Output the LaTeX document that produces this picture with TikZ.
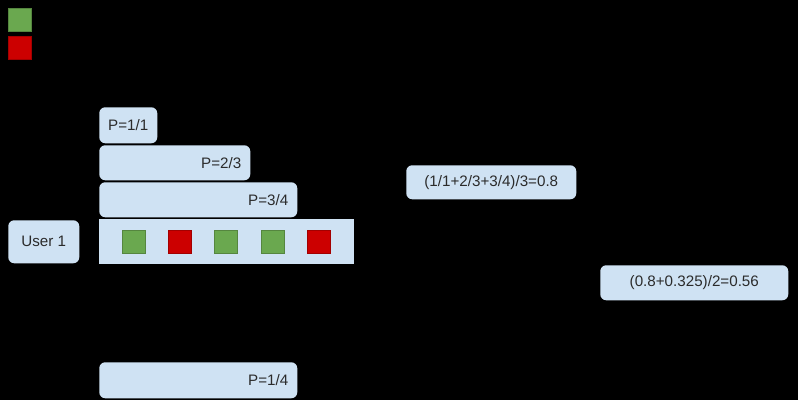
\documentclass[tikz,border=0pt]{standalone}
\usepackage{fontspec}
\setmainfont{Liberation Sans}
\usepackage{xcolor}
\usepackage{tikz}
\usetikzlibrary{positioning}
\definecolor{boxblue}{HTML}{CFE2F3}
\definecolor{hitgreen}{HTML}{6AA84F}
\definecolor{missred}{HTML}{CC0000}
\definecolor{txtgray}{HTML}{2B2B2B}

\begin{document}
\begin{tikzpicture}[
		font=\fontsize{10.8}{13}\selectfont,
		box/.style={
			rectangle,
			rounded corners=0.15cm,
			fill=boxblue,
			text=txtgray,
			anchor=north west,
			inner xsep=0.225cm,
			inner ysep=0pt},
		pbar/.style={
			box,
			text width=#1,
			align=right},
		item/.style={
			rectangle,
			draw=#1!80!black,
			fill=#1,
			anchor=north west,
			minimum size=0.575cm,
			inner sep=0pt}
		]
		% background and size
		\fill[black] (0,0) rectangle (19.95,-10);
		\useasboundingbox (0,0) rectangle (19.95,-10);
		
		% legend
		\node[item=hitgreen] (legHit) at (0.2,-0.2) {};
		\node[item=missred] (legMiss) at (0.2,-0.9) {};
		
		% precision bars
		\node[box, minimum width=1.45cm, minimum height=0.9cm, align=center, inner xsep=0pt] (p1) at (2.475,-2.675) {P=1/1};
		\node[pbar=3.325cm, minimum height=0.875cm] (p2) at (2.475,-3.625) {P=2/3};
		\node[pbar=4.5cm, minimum height=0.875cm] (p3) at (2.475,-4.55) {P=3/4};
		
		% ranked list of user 1
		\node[box, rounded corners=0pt, minimum width=6.375cm, minimum height=1.125cm] (list) at (2.475,-5.475) {};
		\node[box, minimum width=1.775cm, minimum height=1.075cm, inner xsep=0pt] (user) at (0.2,-5.5) {User 1};
		\foreach \c [count=\step from 0] in {hitgreen,missred,hitgreen,hitgreen,missred}
		\node[item=\c] (r\step) at (3.05+1.156*\step,-5.75) {};
		
		% averages
		\node[box, minimum width=4.25cm, minimum height=0.85cm, inner xsep=0pt] (ap) at (10.15,-4.125) {(1/1+2/3+3/4)/3=0.8};
		\node[box, minimum width=4.7cm, minimum height=0.875cm, inner xsep=0pt] (map) at (15,-6.625) {(0.8+0.325)/2=0.56};
		
		% second user bar
		\node[pbar=4.5cm, minimum height=0.9cm] (p4) at (2.475,-9.05) {P=1/4};
		\end{tikzpicture}
\end{document}
